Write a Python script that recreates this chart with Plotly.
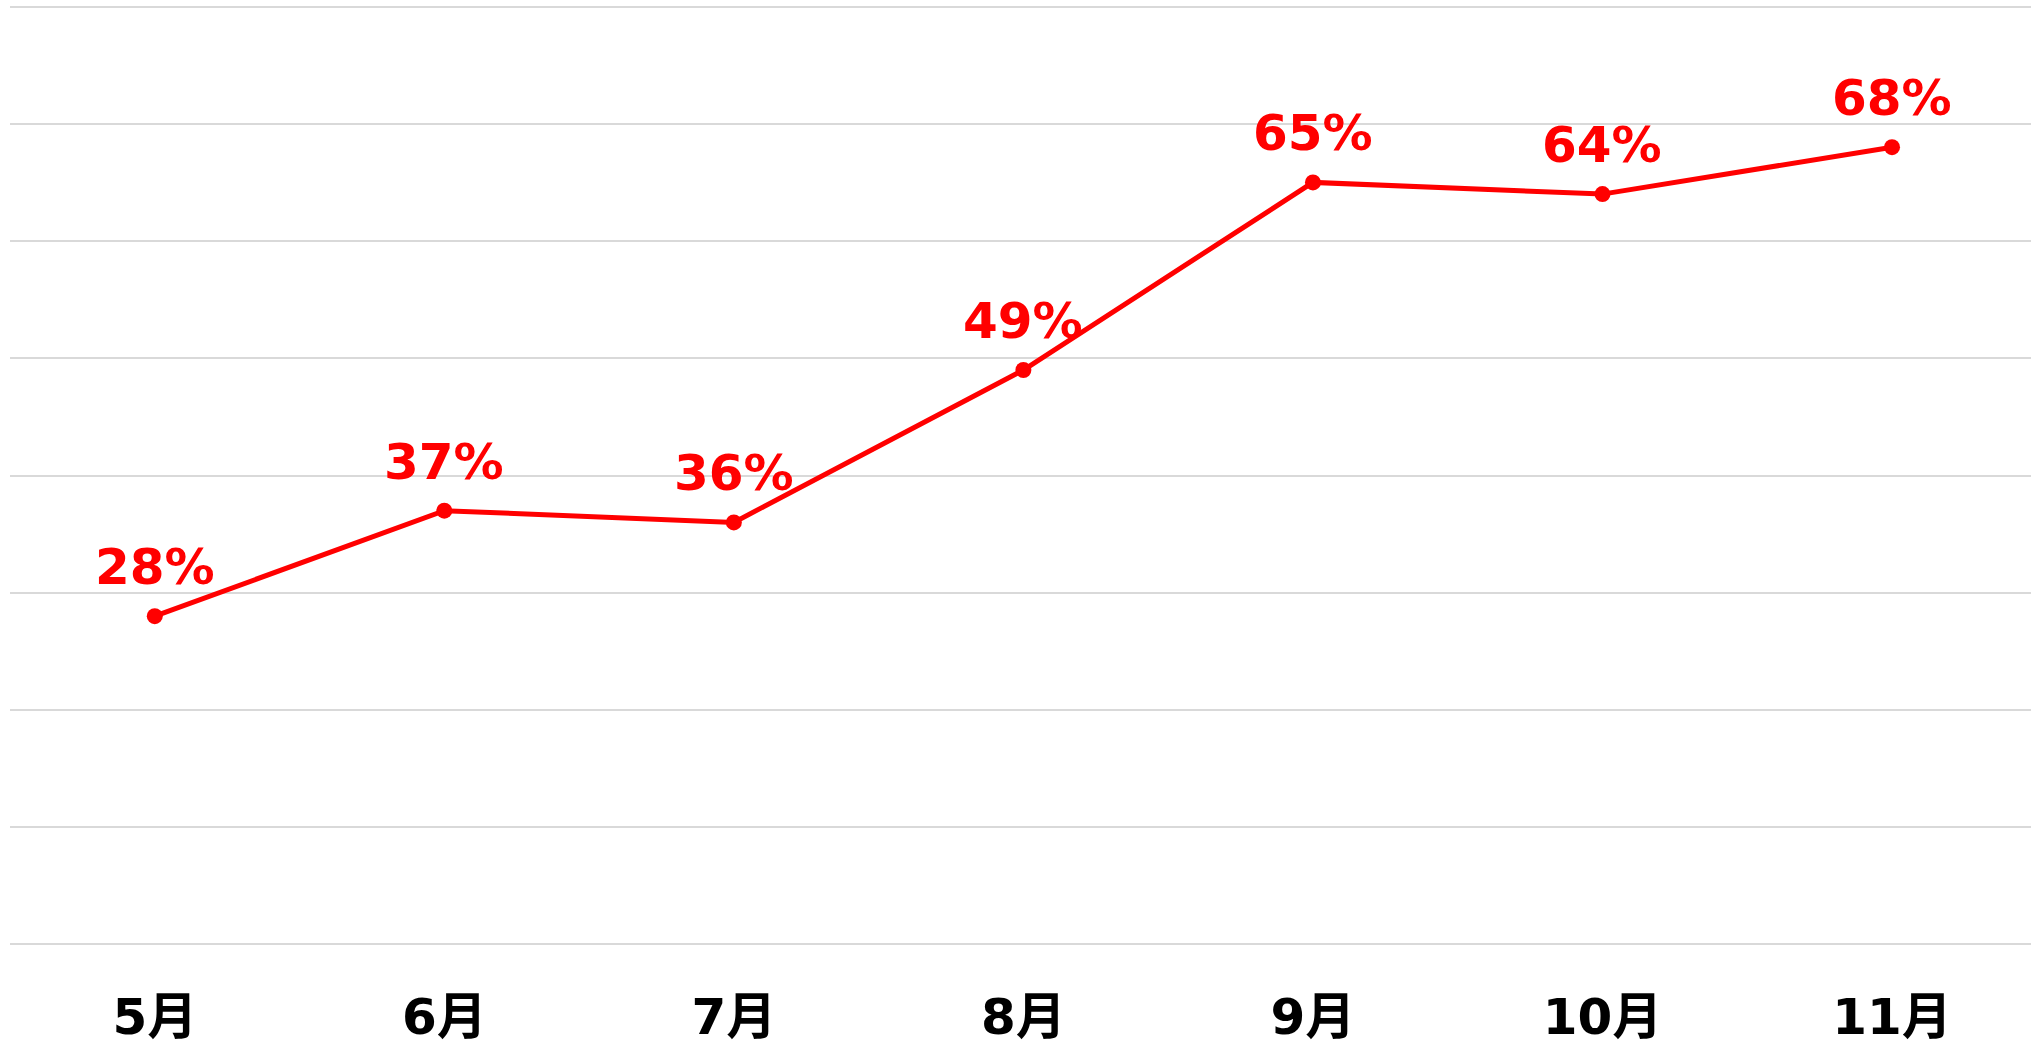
import plotly.graph_objects as go

months = ["5月", "6月", "7月", "8月", "9月", "10月", "11月"]
values = [28, 37, 36, 49, 65, 64, 68]
labels = [f"{v}%" for v in values]

FONT = "DejaVu Sans, Noto Sans CJK JP, sans-serif"

fig = go.Figure()
fig.add_trace(go.Scatter(
    x=months, y=values,
    mode="lines+markers",
    line=dict(color="#ff0000", width=5),
    marker=dict(color="#ff0000", size=16),
    cliponaxis=False,
    hoverinfo="skip",
))

for m, v, t in zip(months, values, labels):
    fig.add_annotation(
        x=m, y=v, text=t, showarrow=False,
        xanchor="center", yanchor="bottom", yshift=18,
        font=dict(family=FONT, size=50, color="#ff0000", weight="bold"),
    )

fig.update_layout(
    width=2031, height=1043,
    margin=dict(l=10, r=0, t=3, b=95),
    paper_bgcolor="white", plot_bgcolor="white",
    showlegend=False,
    font=dict(family=FONT),
)
fig.update_xaxes(
    type="category",
    range=[-0.5, 6.48],
    showgrid=False, zeroline=False, showline=False,
    tickfont=dict(family=FONT, size=50, color="black", weight="bold"),
    ticks="outside", ticklen=0, ticklabelstandoff=25,
    automargin=False,
)
fig.update_yaxes(
    range=[-0.3, 80.3], tickvals=[0, 10, 20, 30, 40, 50, 60, 70, 80],
    showgrid=True, gridcolor="#d9d9d9", gridwidth=2,
    zeroline=False, showline=False,
    showticklabels=False, automargin=False,
)

fig.write_html(
    "out.html",
    config={"displayModeBar": False},
    post_script="document.body.style.margin='0';document.body.style.overflow='hidden';",
)
